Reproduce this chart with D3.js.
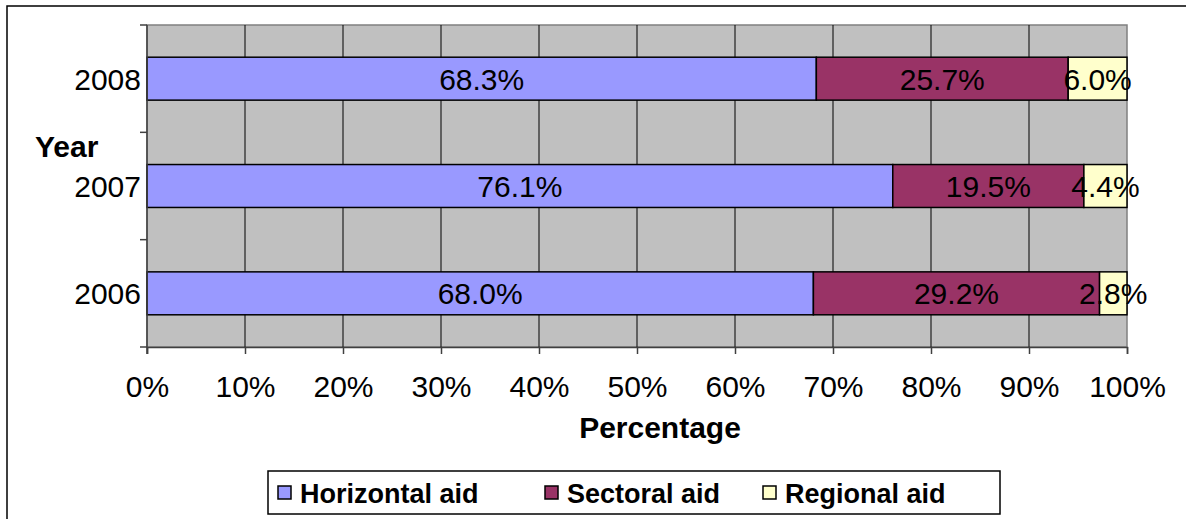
<!DOCTYPE html>
<html>
<head>
<meta charset="utf-8">
<script src="https://cdn.jsdelivr.net/npm/d3@7"></script>
<style>
  body { margin: 0; background: #fff; }
  svg { display: block; font-family: "Liberation Sans", Arial, sans-serif; }
</style>
</head>
<body>
<svg id="chart" width="1186" height="519"></svg>
<script>
/* chart data */
const years = ["2008", "2007", "2006"];
const seriesNames = ["Horizontal aid", "Sectoral aid", "Regional aid"];
const horizontalAid = [68.3, 76.1, 68.0];
const sectoralAid = [25.7, 19.5, 29.2];
const regionalAid = [6.0, 4.4, 2.8];
const xTicks = [0, 0.1, 0.2, 0.3, 0.4, 0.5, 0.6, 0.7, 0.8, 0.9, 1];
const colors = ["#9999FF", "#993366", "#FFFFCC"];

/* build rows for stacking */
const rows = years.map((yr, i) => ({
  year: yr,
  "Horizontal aid": horizontalAid[i],
  "Sectoral aid": sectoralAid[i],
  "Regional aid": regionalAid[i]
}));

const svg = d3.select("#chart");
const plot = {left: 147, right: 1127, top: 25, bottom: 347};
const fs = 30;

/* outer chart frame */
svg.append("rect")
  .attr("x", 7).attr("y", 6)
  .attr("width", 1200).attr("height", 600)
  .attr("fill", "none").attr("stroke", "#000").attr("stroke-width", 1.5);

const x = d3.scaleLinear().domain([0, 1]).range([plot.left, plot.right]);
const y = d3.scaleBand().domain(years).range([plot.top, plot.bottom])
  .paddingInner(0.6).paddingOuter(0.3);

/* plot background */
svg.append("rect")
  .attr("x", plot.left).attr("y", plot.top)
  .attr("width", plot.right - plot.left).attr("height", plot.bottom - plot.top)
  .attr("fill", "#C0C0C0").attr("stroke", "#808080").attr("stroke-width", 1.5);

/* vertical gridlines */
svg.append("g").selectAll("line")
  .data(xTicks.slice(1, -1))
  .join("line")
  .attr("x1", d => x(d)).attr("x2", d => x(d))
  .attr("y1", plot.top).attr("y2", plot.bottom)
  .attr("stroke", "#000").attr("stroke-width", 1);

/* stacked bars */
const stack = d3.stack().keys(seriesNames);
const stacked = stack(rows);

const layers = svg.append("g").selectAll("g")
  .data(stacked)
  .join("g")
  .attr("fill", (d, i) => colors[i]);

layers.selectAll("rect")
  .data(d => d)
  .join("rect")
  .attr("x", d => x(d[0] / 100))
  .attr("width", d => x(d[1] / 100) - x(d[0] / 100))
  .attr("y", d => y(d.data.year))
  .attr("height", y.bandwidth())
  .attr("stroke", "#000").attr("stroke-width", 1.5);

/* data labels */
layers.selectAll("text")
  .data(d => d.map(v => ({v, key: d.key})))
  .join("text")
  .attr("x", d => x((d.v[0] + d.v[1]) / 200))
  .attr("y", d => y(d.v.data.year) + y.bandwidth() / 2 + 11)
  .attr("text-anchor", "middle")
  .attr("font-size", fs)
  .attr("fill", "#000")
  .text(d => d3.format(".1f")(d.v.data[d.key]) + "%");

/* y axis line and category ticks */
const step = y.step();
svg.append("line")
  .attr("x1", plot.left).attr("x2", plot.left)
  .attr("y1", plot.top).attr("y2", plot.bottom + 7)
  .attr("stroke", "#404040").attr("stroke-width", 1.5);
svg.append("g").selectAll("line")
  .data(d3.range(years.length + 1))
  .join("line")
  .attr("x1", plot.left - 7).attr("x2", plot.left)
  .attr("y1", i => plot.top + i * step).attr("y2", i => plot.top + i * step)
  .attr("stroke", "#404040").attr("stroke-width", 1.5);

svg.append("g").selectAll("text")
  .data(years)
  .join("text")
  .attr("x", plot.left - 6)
  .attr("y", d => y(d) + y.bandwidth() / 2 + 11)
  .attr("text-anchor", "end")
  .attr("font-size", fs)
  .text(d => d);

/* x axis */
const xAxis = svg.append("g")
  .attr("transform", `translate(0,${plot.bottom})`)
  .call(d3.axisBottom(x).tickValues(xTicks).tickSize(7).tickFormat(d3.format(".0%")));
xAxis.select(".domain").attr("stroke", "#404040").attr("stroke-width", 1.5);
xAxis.selectAll(".tick line").attr("stroke", "#404040").attr("stroke-width", 1.5);
xAxis.selectAll(".tick text")
  .attr("y", 50).attr("dy", null)
  .attr("font-size", fs).attr("font-family", "Liberation Sans, Arial, sans-serif")
  .attr("fill", "#000");

/* axis titles */
svg.append("text")
  .attr("x", 660).attr("y", 438)
  .attr("text-anchor", "middle").attr("font-size", fs).attr("font-weight", "bold")
  .text("Percentage");
svg.append("text")
  .attr("x", 35).attr("y", 157)
  .attr("font-size", fs).attr("font-weight", "bold")
  .text("Year");

/* legend */
const legend = svg.append("g");
legend.append("rect")
  .attr("x", 268).attr("y", 471).attr("width", 732).attr("height", 43)
  .attr("fill", "#fff").attr("stroke", "#000").attr("stroke-width", 1.5);
const legendX = [278, 545, 763];
const items = legend.selectAll("g.item")
  .data(seriesNames)
  .join("g").attr("class", "item")
  .attr("transform", (d, i) => `translate(${legendX[i]},0)`);
items.append("rect")
  .attr("x", 0).attr("y", 486).attr("width", 13).attr("height", 13)
  .attr("fill", (d, i) => colors[i]).attr("stroke", "#000").attr("stroke-width", 1.5);
items.append("text")
  .attr("x", 22).attr("y", 503)
  .attr("font-size", 27).attr("font-weight", "bold")
  .text(d => d);
</script>
</body>
</html>
